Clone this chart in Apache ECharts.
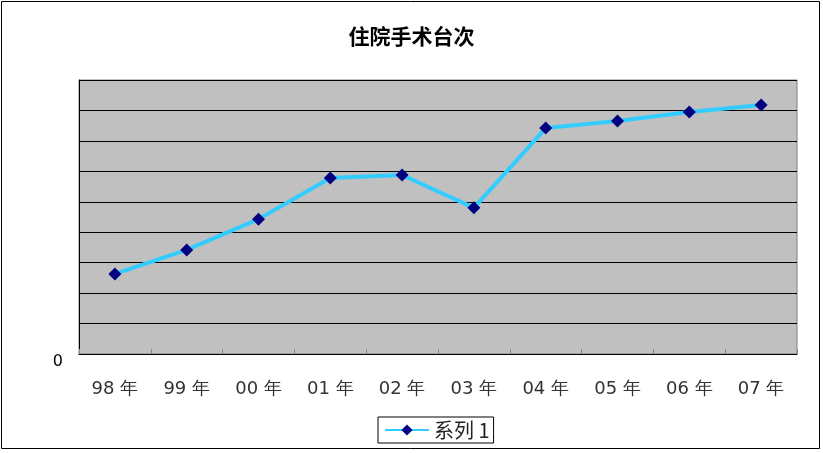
<!DOCTYPE html>
<html><head><meta charset="utf-8">
<script src="https://cdn.jsdelivr.net/npm/echarts@6/dist/echarts.min.js"></script>
<style>html,body{margin:0;padding:0;background:#fff}#c{width:823px;height:453px}</style>
</head><body><div id="c"></div>
<script>
const categories = ['98 年','99 年','00 年','01 年','02 年','03 年','04 年','05 年','06 年','07 年'];
const seriesName = '系列 1';
const values = [263, 342, 443, 578, 588, 480, 742, 765, 795, 818];
const yMin = 0, yMax = 900, yStep = 100;

const chart = echarts.init(document.getElementById('c'));
chart.setOption({
  backgroundColor: '#fff',
  animation: false,
  title: {
    text: '住院手术台次', left: 'center', top: 21,
    textStyle: {fontFamily: 'Noto Sans CJK SC', fontSize: 21, fontWeight: 'bold', color: '#000'}
  },
  graphic: [{type: 'rect', shape: {x: 1.5, y: 1.5, width: 818, height: 447}, style: {fill: 'none', stroke: '#000', lineWidth: 1}, silent: true}],
  legend: {
    top: 417, left: 378,
    data: [seriesName],
    itemWidth: 44, itemHeight: 14, itemGap: 4,
    padding: [3, 4, 3, 6],
    borderColor: '#000', borderWidth: 1,
    textStyle: {fontFamily: 'Noto Sans CJK SC', fontSize: 20, color: '#222'}
  },
  grid: {left: 79, right: 26, top: 80, bottom: 99, show: true, backgroundColor: '#c0c0c0', borderColor: '#808080', borderWidth: 1},
  xAxis: {
    type: 'category', data: categories, boundaryGap: true,
    axisLine: {lineStyle: {color: '#000', width: 1}},
    axisTick: {show: true, inside: true, length: 5, lineStyle: {color: '#888'}},
    axisLabel: {margin: 26, fontFamily: 'DejaVu Sans', fontSize: 18, color: '#333'}
  },
  yAxis: {
    type: 'value', min: yMin, max: yMax, interval: yStep,
    axisLine: {show: true, lineStyle: {color: '#000'}},
    axisTick: {show: false},
    splitLine: {lineStyle: {color: '#000', width: 1}},
    axisLabel: {margin: 16, fontFamily: 'DejaVu Sans', fontSize: 16, color: '#000', verticalAlign: 'top',
      formatter: v => (v === 0 ? '0' : '')}
  },
  series: [{
    name: seriesName, type: 'line', data: values,
    lineStyle: {color: '#33ccff', width: 4},
    itemStyle: {color: '#000080'},
    symbol: 'diamond', symbolSize: 13,
    emphasis: {disabled: true}
  }]
});
</script></body></html>
